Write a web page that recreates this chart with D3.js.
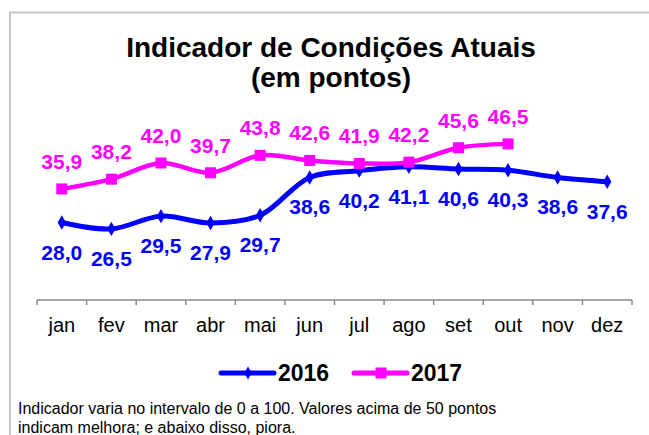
<!DOCTYPE html>
<html>
<head>
<meta charset="utf-8">
<script src="https://cdn.jsdelivr.net/npm/d3@7"></script>
<style>
  body { margin: 0; background: #fff; }
  svg { display: block; font-family: Arial, "Liberation Sans", sans-serif; }
</style>
</head>
<body>
<div id="chart"></div>
<script>
// Data
const months = ["jan", "fev", "mar", "abr", "mai", "jun", "jul", "ago", "set", "out", "nov", "dez"];
const values2016 = [28.0, 26.5, 29.5, 27.9, 29.7, 38.6, 40.2, 41.1, 40.6, 40.3, 38.6, 37.6];
const values2017 = [35.9, 38.2, 42.0, 39.7, 43.8, 42.6, 41.9, 42.2, 45.6, 46.5];
const seriesNames = ["2016", "2017"];
const footnote = [
    "Indicador varia no intervalo de 0 a 100. Valores acima de 50 pontos",
    "indicam melhora; e abaixo disso, piora."
];

const width = 649, height = 435;
const blue = "#0000ff", pink = "#ff00ff";

const svg = d3.select("#chart").append("svg")
    .attr("width", width)
    .attr("height", height);

// outer frame (left + top edge visible)
svg.append("path")
    .attr("d", `M10,${height} V12.5 H${width}`)
    .attr("fill", "none")
    .attr("stroke", "#c4c4c4")
    .attr("stroke-width", 2);

// title
const title = svg.append("text")
    .attr("text-anchor", "middle")
    .attr("font-weight", "bold")
    .attr("font-size", 28)
    .attr("fill", "#000");
title.append("tspan").attr("x", 331).attr("y", 57).text("Indicador de Condições Atuais");
title.append("tspan").attr("x", 331).attr("y", 87).text("(em pontos)");

// scales
const x = d3.scaleBand()
    .domain(months)
    .range([37, 632])
    .padding(0);

const y = d3.scaleLinear()
    .domain([10, 50])
    .range([299, 129]);

const cx = d => x(d) + x.bandwidth() / 2;

// x axis
const axisY = 300;
const axis = svg.append("g")
    .attr("transform", `translate(0,${axisY})`)
    .call(d3.axisBottom(x).tickSize(0).tickPadding(18))
    .call(g => g.select(".domain").remove());

axis.selectAll("text")
    .attr("font-size", 20)
    .attr("font-family", "Arial, 'Liberation Sans', sans-serif")
    .attr("fill", "#000");

axis.append("line")
    .attr("x1", x.range()[0]).attr("x2", x.range()[1])
    .attr("stroke", "#888").attr("stroke-width", 1.5);

axis.selectAll(".bound")
    .data(months.map(m => x(m)).concat([x.range()[1]]))
    .enter()
    .append("line")
    .attr("class", "bound")
    .attr("x1", d => d).attr("x2", d => d)
    .attr("y1", 0).attr("y2", 5)
    .attr("stroke", "#888").attr("stroke-width", 1.5);

const line = d3.line()
    .x((d, i) => cx(months[i]))
    .y(d => y(d))
    .curve(d3.curveCatmullRom.alpha(0.5));

const fmt = v => d3.format(".1f")(v).replace(".", ",");

// 2016 series
svg.append("path")
    .datum(values2016)
    .attr("fill", "none")
    .attr("stroke", blue)
    .attr("stroke-width", 5)
    .attr("stroke-linejoin", "round")
    .attr("d", line);

svg.selectAll(".m2016")
    .data(values2016)
    .enter()
    .append("path")
    .attr("class", "m2016")
    .attr("transform", (d, i) => `translate(${cx(months[i])},${y(d)})`)
    .attr("d", d3.symbol(d3.symbolDiamond, 60))
    .attr("fill", blue);

svg.selectAll(".l2016")
    .data(values2016)
    .enter()
    .append("text")
    .attr("class", "l2016")
    .attr("x", (d, i) => cx(months[i]))
    .attr("y", d => y(d) + 37)
    .attr("text-anchor", "middle")
    .attr("font-weight", "bold")
    .attr("font-size", 21)
    .attr("fill", blue)
    .text(fmt);

// 2017 series
svg.append("path")
    .datum(values2017)
    .attr("fill", "none")
    .attr("stroke", pink)
    .attr("stroke-width", 4.5)
    .attr("stroke-linejoin", "round")
    .attr("d", line);

svg.selectAll(".m2017")
    .data(values2017)
    .enter()
    .append("rect")
    .attr("class", "m2017")
    .attr("x", (d, i) => cx(months[i]) - 5.5)
    .attr("y", d => y(d) - 5.5)
    .attr("width", 11)
    .attr("height", 11)
    .attr("fill", pink);

svg.selectAll(".l2017")
    .data(values2017)
    .enter()
    .append("text")
    .attr("class", "l2017")
    .attr("x", (d, i) => cx(months[i]))
    .attr("y", d => y(d) - 20)
    .attr("text-anchor", "middle")
    .attr("font-weight", "bold")
    .attr("font-size", 21)
    .attr("fill", pink)
    .text(fmt);

// legend
const legendY = 373;
const legend = svg.append("g");
const legendItems = [
    {name: seriesNames[0], color: blue, x0: 221, shape: "diamond"},
    {name: seriesNames[1], color: pink, x0: 354, shape: "square"}
];
legendItems.forEach(it => {
    legend.append("line")
        .attr("x1", it.x0).attr("x2", it.x0 + 53)
        .attr("y1", legendY).attr("y2", legendY)
        .attr("stroke", it.color)
        .attr("stroke-width", 5)
        .attr("stroke-linecap", "round");
    if (it.shape === "diamond") {
        legend.append("path")
            .attr("transform", `translate(${it.x0 + 27},${legendY})`)
            .attr("d", d3.symbol(d3.symbolDiamond, 50))
            .attr("fill", it.color);
    } else {
        legend.append("rect")
            .attr("x", it.x0 + 27 - 5.5).attr("y", legendY - 5.5)
            .attr("width", 11).attr("height", 11)
            .attr("fill", it.color);
    }
    legend.append("text")
        .attr("x", it.x0 + 57)
        .attr("y", legendY + 8)
        .attr("font-weight", "bold")
        .attr("font-size", 23)
        .attr("fill", "#000")
        .text(it.name);
});

// footnote
svg.selectAll(".foot")
    .data(footnote)
    .enter()
    .append("text")
    .attr("class", "foot")
    .attr("x", 18)
    .attr("y", (d, i) => 414 + i * 18.5)
    .attr("font-size", 16)
    .attr("fill", "#000")
    .text(d => d);
</script>
</body>
</html>
